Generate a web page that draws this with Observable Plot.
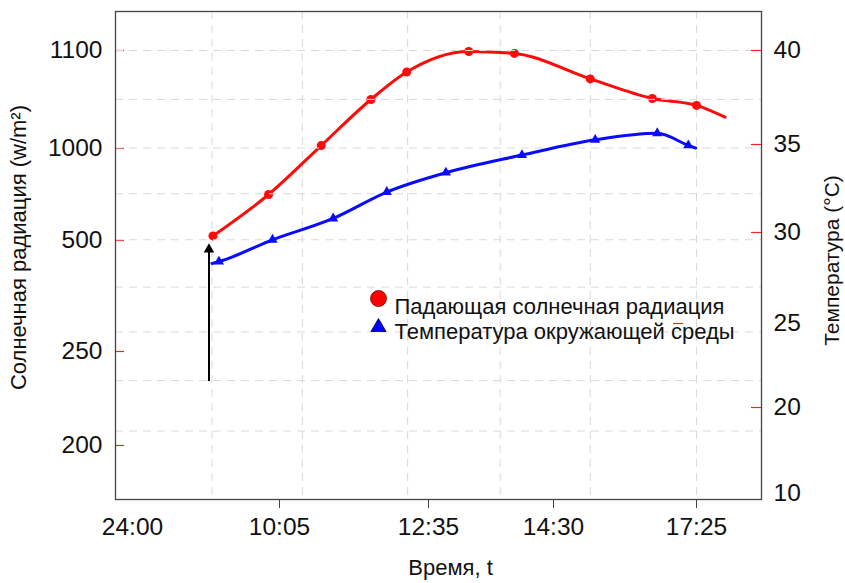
<!DOCTYPE html>
<html><head><meta charset="utf-8">
<script src="https://cdn.jsdelivr.net/npm/d3@7"></script>
<script src="https://cdn.jsdelivr.net/npm/@observablehq/plot@0.6"></script>
<style>
body{margin:0;background:#fff;}
#chart{position:relative;width:845px;height:583px;}
#chart svg{position:absolute;left:0;top:0;}
</style></head><body><div id="chart"></div>
<script>
// ---- data (times in minutes of day) ----
const xTickTimes = [457, 605, 755, 870, 1045];
const xTickLabels = ["24:00", "10:05", "12:35", "14:30", "17:25"];

const radTimes  = [538, 594, 647, 697, 733, 792, 834, 915, 991, 1045, 1080];
const radValues = [525, 750, 1003, 1050, 1078, 1099, 1097, 1071, 1051, 1044, 1032];
const radMarked = [1, 1, 1, 1, 1, 1, 1, 1, 1, 1, 0];

const tempTimes  = [537, 544, 598, 659, 713, 771, 841, 921, 997, 1035, 1044];
const tempValues = [28.3, 28.4, 29.6, 30.8, 32.3, 33.4, 34.4, 35.25, 35.6, 34.95, 34.8];
const tempMarked = [0, 1, 1, 1, 1, 1, 1, 1, 1, 1, 0];

const radTicks = [200, 250, 500, 1000, 1100];
const tempTickValues = [14.9, 20, 25, 30, 35, 40];
const tempTickLabels = ["10", "20", "25", "30", "35", "40"];
const tempRedTicks = [20, 30, 35, 40];

const gridTimes = [537, 628, 734, 821, 915, 1045];
const gridTemps = [40, 37.4, 34.8, 32.2, 29.6, 27.0, 24.5, 21.6, 18.6];

const arrowTime = 534, arrowFrom = 234, arrowTo = 480;

const legendLabels = ["Падающая солнечная радиация", "Температура окружающей среды"];
const titles = {y1: "Солнечная радиация (w/m²)", y2: "Температура (°C)", x: "Время, t"};

// ---- tables ----
const rad = radTimes.map((t, i) => ({t, v: radValues[i], m: radMarked[i]}));
const temp = tempTimes.map((t, i) => ({t, v: tempValues[i], m: tempMarked[i]}));
const xLabel = new Map(xTickTimes.map((t, i) => [t, xTickLabels[i]]));
const tLabel = new Map(tempTickValues.map((t, i) => [t, tempTickLabels[i]]));

const W = 845, H = 583;
const frameL = 115, frameR = 761, frameT = 11, frameB = 499;
const common = {
  width: W, height: H,
  marginLeft: frameL, marginRight: W - frameR, marginTop: frameT, marginBottom: H - frameB,
  x: {type: "linear", domain: [605, 755, 870, 1045], range: [279, 428, 553, 696], label: null}
};
const font = "'Liberation Sans', Arial, sans-serif";
const fw = frameR - frameL;
const TICK_FS = 24.5, TITLE_FS = 22, LEG_FS = 22;

const plotA = Plot.plot({
  ...common,
  style: {fontFamily: font, background: "white"},
  y: {type: "linear", domain: [200, 250, 500, 1000, 1100], range: [445, 351, 240, 148, 50], label: null},
  marks: [
    Plot.ruleX(gridTimes, {x: d => d, stroke: "#d9d9d9", strokeDasharray: "8,6", strokeWidth: 1}),
    Plot.axisY(radTicks, {anchor: "left", label: null, tickSize: 0, tickPadding: 13, fontSize: TICK_FS, fill: "#111", tickFormat: d => String(d)}),
    Plot.tickY(radTicks, {y: d => d, stroke: "#ff2020", strokeWidth: 1.2, insetRight: fw - 9}),
    Plot.axisX(xTickTimes.slice(1), {anchor: "bottom", label: null, tickSize: 9, tickPadding: 9, stroke: "#444", fontSize: TICK_FS, fill: "#111", tickFormat: d => xLabel.get(d)}),
    Plot.axisX(xTickTimes.slice(0, 1), {anchor: "bottom", label: null, tickSize: 0, tickPadding: 18, fontSize: TICK_FS, fill: "#111", tickFormat: d => xLabel.get(d)}),
    Plot.line(rad, {x: "t", y: "v", stroke: "#ff0a0a", strokeWidth: 3, curve: "monotone-x"}),
    Plot.dot(rad.filter(d => d.m), {x: "t", y: "v", r: 4.5, fill: "#ff0a0a"}),
    Plot.ruleX([arrowTime], {x: d => d, y1: arrowFrom, y2: arrowTo, stroke: "black", strokeWidth: 2}),
    Plot.dot([arrowTime], {x: d => d, y: arrowTo, symbol: "triangle", r: 3.9, fill: "black"}),
    Plot.text([titles.y1], {frameAnchor: "left", textAnchor: "middle", dx: -97, dy: -8, rotate: -90, fontSize: TITLE_FS, fill: "#111"}),
    Plot.text([titles.x], {frameAnchor: "bottom", textAnchor: "middle", dx: 12, dy: 75, fontSize: TITLE_FS, fill: "#111"})
  ]
});

const plotB = Plot.plot({
  ...common,
  x: {...common.x, axis: null},
  style: {fontFamily: font, background: "transparent"},
  y: {type: "linear", domain: [20, 25, 30, 35, 40], range: [407, 323, 232, 144, 50], label: null},
  marks: [
    Plot.ruleY(gridTemps, {y: d => d, stroke: "#d9d9d9", strokeDasharray: "8,6", strokeWidth: 1}),
    Plot.axisY(tempTickValues, {anchor: "right", label: null, tickSize: 0, tickPadding: 12, fontSize: TICK_FS, fill: "#111", tickFormat: d => tLabel.get(d)}),
    Plot.tickY(tempRedTicks, {y: d => d, stroke: "#ff2020", strokeWidth: 1.2, insetLeft: fw - 10}),
    Plot.tickY([25], {y: d => d, stroke: "#ff2020", strokeWidth: 1.2, insetLeft: 558, insetRight: 78}),
    Plot.line(temp, {x: "t", y: "v", stroke: "#0a0aff", strokeWidth: 3, curve: "monotone-x"}),
    Plot.dot(temp.filter(d => d.m), {x: "t", y: "v", r: 3.8, symbol: "triangle", fill: "#0a0aff"}),
    Plot.dot([0], {frameAnchor: "top-left", dx: 263, dy: 287, r: 8, fill: "#ff0000", stroke: "#700", strokeWidth: 0.8}),
    Plot.dot([0], {frameAnchor: "top-left", dx: 263, dy: 315.7, r: 5.6, symbol: "triangle", fill: "#0000ff", stroke: "#003", strokeWidth: 0.8}),
    Plot.text([legendLabels[0]], {frameAnchor: "top-left", dx: 279, dy: 287, textAnchor: "start", fontSize: LEG_FS, fill: "#111"}),
    Plot.text([legendLabels[1]], {frameAnchor: "top-left", dx: 279, dy: 312, textAnchor: "start", fontSize: LEG_FS, fill: "#111"}),
    Plot.text([titles.y2], {frameAnchor: "right", textAnchor: "middle", dx: 71, dy: 5, rotate: -90, fontSize: TITLE_FS - 1, fill: "#111"}),
    Plot.frame({stroke: "#444", strokeWidth: 1.3})
  ]
});

const el = document.getElementById("chart");
el.appendChild(plotA);
el.appendChild(plotB);
</script></body></html>
